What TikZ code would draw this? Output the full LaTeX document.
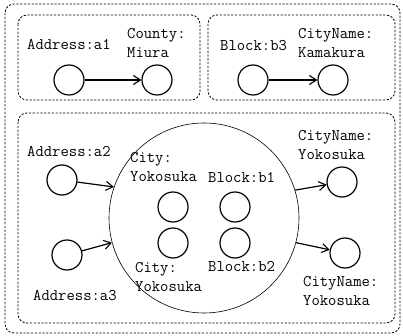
\documentclass[tikz,border=0pt]{standalone}
\usetikzlibrary{arrows.meta}
\begin{document}
\begin{tikzpicture}[x=1pt,y=-1pt,
  obj/.style={circle,draw,line width=1.2pt,minimum size=30pt,inner sep=0pt},
  lbl/.style={anchor=base west,inner sep=0pt,font=\ttfamily\fontsize{16.2}{19}\selectfont},
  grp/.style={draw,line width=0.8pt,dash pattern=on 2.2pt off 1.6pt,rounded corners=9pt},
  rel/.style={line width=1.2pt,-{Straight Barb[length=7pt,width=9pt,line width=1.1pt]}}]
\useasboundingbox (0,0) rectangle (403,336);
% group frames
\draw[grp] (5,4) rectangle (400,333);
\draw[grp] (18,15) rectangle (200,100);
\draw[grp] (208,15) rectangle (395,100);
\draw[grp] (18,113) rectangle (395,323);
% big circle
\node[circle,draw,line width=0.6pt,minimum size=190pt,inner sep=0pt] (big) at (204,218) {};
% top-left group
\node[obj] (a1) at (69,80) {};
\node[obj] (county) at (157,80) {};
\node[lbl] (la1) at (27,50) {Address:a1};
\node[lbl] (lcounty) at (127,39) {\begin{tabular}[t]{@{}l@{}}County:\\Miura\end{tabular}};
\draw[rel] (a1) -- (county);
% top-right group
\node[obj] (b3) at (253,80) {};
\node[obj] (kama) at (333,80) {};
\node[lbl] (lb3) at (220,51) {Block:b3};
\node[lbl] (lkama) at (298,39) {\begin{tabular}[t]{@{}l@{}}CityName:\\Kamakura\end{tabular}};
\draw[rel] (b3) -- (kama);
% bottom group
\node[obj] (a2) at (62,180) {};
\node[obj] (a3) at (67,255) {};
\node[lbl] (la2) at (27,157) {Address:a2};
\node[lbl] (la3) at (33,300) {Address:a3};
\node[obj] (city1) at (173,207) {};
\node[obj] (city2) at (173,243) {};
\node[obj] (b1) at (235,207) {};
\node[obj] (b2) at (235,243) {};
\node[lbl] (lcity1) at (130,163) {\begin{tabular}[t]{@{}l@{}}City:\\Yokosuka\end{tabular}};
\node[lbl] (lb1) at (208,183) {Block:b1};
\node[lbl] (lcity2) at (135,272) {\begin{tabular}[t]{@{}l@{}}City:\\Yokosuka\end{tabular}};
\node[lbl] (lb2) at (208,271) {Block:b2};
\node[obj] (yk1) at (342,182) {};
\node[obj] (yk2) at (345,253) {};
\node[lbl] (lyk1) at (298,141) {\begin{tabular}[t]{@{}l@{}}CityName:\\Yokosuka\end{tabular}};
\node[lbl] (lyk2) at (303,286) {\begin{tabular}[t]{@{}l@{}}CityName:\\Yokosuka\end{tabular}};
\draw[rel] (a2) -- (big.161);
\draw[rel] (a3) -- (big.195);
\draw[rel] (big.17) -- (yk1);
\draw[rel] (big.345) -- (yk2);
\end{tikzpicture}
\end{document}
